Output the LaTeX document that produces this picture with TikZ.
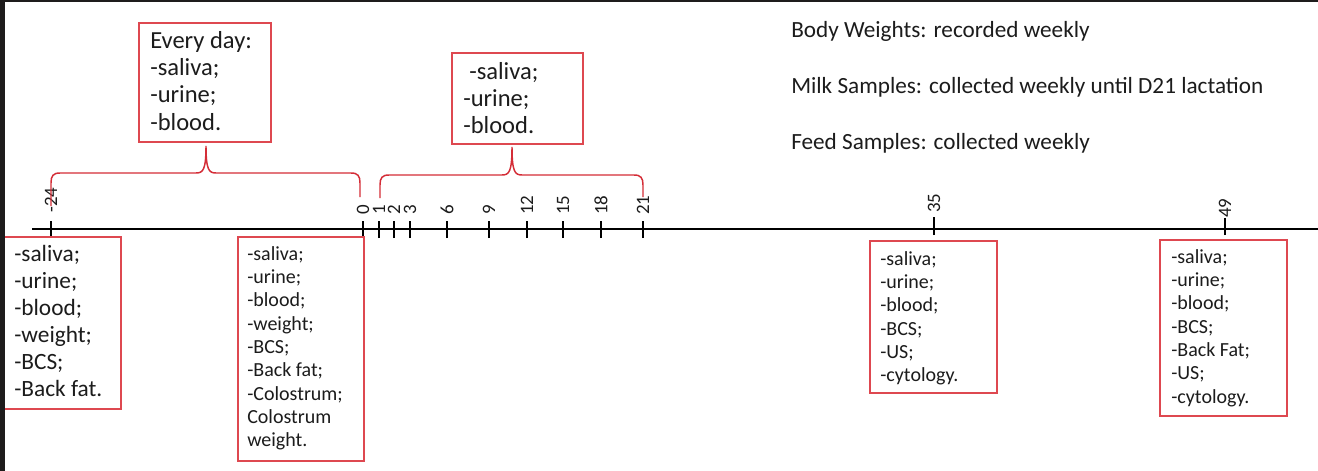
\documentclass[tikz,border=0pt]{standalone}
\usepackage{fontspec}
\setmainfont{Carlito}
\usetikzlibrary{fit}
\definecolor{boxred}{RGB}{222,72,80}
\definecolor{bracered}{RGB}{212,45,55}
\definecolor{framedark}{RGB}{30,28,28}
\definecolor{ink}{RGB}{28,28,28}
\begin{document}
\begin{tikzpicture}[x=0.75pt,y=-0.75pt,
  box/.style={draw=boxred,line width=1.1pt,inner sep=0pt},
  brace/.style={draw=bracered,line width=1.1pt},
  tick/.style={draw=black,line width=0.8pt},
  axisline/.style={draw=black,line width=1.1pt},
  bigtxt/.style={anchor=north west,align=left,inner sep=0pt,text=ink,font=\fontsize{17.5}{20.2}\selectfont},
  smalltxt/.style={anchor=north west,align=left,inner sep=0pt,text=ink,font=\fontsize{15}{17.5}\selectfont},
  toptxt/.style={anchor=north west,align=left,inner sep=0pt,text=ink,font=\fontsize{18.4}{20.5}\selectfont},
  notetxt/.style={anchor=base west,inner sep=0pt,text=ink,font=\fontsize{17.4}{20}\selectfont},
  daylbl/.style={rotate=90,anchor=west,inner sep=0pt,text=ink,font=\fontsize{14.2}{16}\selectfont}]
\useasboundingbox (0,0) rectangle (1318,471);
\fill[white] (0,0) rectangle (1318,471);

% axis
\coordinate (axL) at (32,229);
\coordinate (axR) at (1318,229);
\draw[axisline] (axL) -- (axR);

% ticks
\foreach \n/\x in {m24/51,d0/363,d1/379,d2/394,d3/410,d6/447,d9/489,d12/527,d15/563,d18/601,d21/643,d35/934,d49/1225}{
  \coordinate (t\n) at (\x,229);
}
\foreach \n in {d0,d1,d2,d3,d6,d9,d12,d15,d18,d21}{
  \draw[tick] ([yshift=-9*0.75pt]t\n) -- ([yshift=8*0.75pt]t\n);
}
\draw[tick] ([yshift=-7*0.75pt]tm24) -- ([yshift=8*0.75pt]tm24);
\draw[tick] ([yshift=-6*0.75pt]td35) -- ([yshift=12*0.75pt]td35);
\draw[tick] ([yshift=-6*0.75pt]td49) -- ([yshift=11*0.75pt]td49);

% day labels
\foreach \n/\l/\y in {m24/-24/213,d0/0/215,d1/1/215,d2/2/215,d3/3/215,d6/6/215,d9/9/215,d12/12/215,d15/15/215,d18/18/215,d21/21/215,d35/35/213,d49/49/218}{
  \path (t\n |- 0,\y) node[daylbl] (l\n) {\l};
}

% boxes
\node[box,fit={(3,237) (121,409)}] (boxA) {};
\node[box,fit={(238,237) (364,461)}] (boxB) {};
\node[box,fit={(870,241) (997,393)}] (boxC) {};
\node[box,fit={(1160,240) (1287,416)}] (boxD) {};
\node[box,fit={(139,23) (271,142)}] (boxE) {};
\node[box,fit={(452,53) (583,144)}] (boxF) {};

% box texts
\node[bigtxt] (txtA) at (14,245) {-saliva;\\-urine;\\-blood;\\-weight;\\-BCS;\\-Back fat.};
\node[smalltxt] (txtB) at (247,246) {-saliva;\\-urine;\\-blood;\\-weight;\\-BCS;\\-Back fat;\\-Colostrum;\\Colostrum\\weight.};
\node[smalltxt] (txtC) at (880,251) {-saliva;\\-urine;\\-blood;\\-BCS;\\-US;\\-cytology.};
\node[smalltxt] (txtD) at (1171,249) {-saliva;\\-urine;\\-blood;\\-BCS;\\-Back Fat;\\-US;\\-cytology.};
\node[toptxt] (txtE) at (150,31) {Every day:\\-saliva;\\-urine;\\-blood.};
\node[toptxt] (txtF) at (463,62) {\hspace{4.5pt}-saliva;\\-urine;\\-blood.};

% notes
\node[notetxt] (n1) at (791,37) {Body Weights: recorded weekly};
\node[notetxt] (n2) at (791,93) {Milk Samples: collected weekly until D21 lactation};
\node[notetxt] (n3) at (791,149) {Feed Samples: collected weekly};

% braces
\coordinate (b1L) at (51,206);
\coordinate (b1R) at (360,197);
\coordinate (tip1) at (206,146);
\draw[brace] (b1L) -- (51,183) .. controls (51,176) and (53,173) .. (60,173)
  -- (196,173) .. controls (203,173) and (206,170) .. (tip1)
  .. controls (206,170) and (209,173) .. (216,173)
  -- (351,173) .. controls (358,173) and (360,176) .. (360,183) -- (b1R);
\coordinate (b2L) at (380,198);
\coordinate (b2R) at (643,197);
\coordinate (tip2) at (512,147);
\draw[brace] (b2L) -- (380,185) .. controls (380,178) and (382,175) .. (389,175)
  -- (502,175) .. controls (509,175) and (512,172) .. (tip2)
  .. controls (512,172) and (515,175) .. (522,175)
  -- (634,175) .. controls (641,175) and (643,178) .. (643,185) -- (b2R);

% screenshot frame
\fill[framedark] (0,0) rectangle (1318,2);
\fill[framedark] (0,0) rectangle (5,471);
\end{tikzpicture}
\end{document}
